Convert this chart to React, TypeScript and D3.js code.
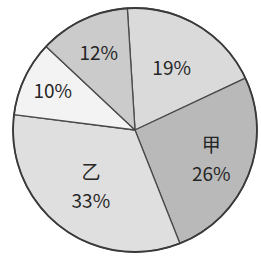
import React, { useEffect, useRef } from 'react';
import * as d3 from 'd3';

const names = ['', '甲', '乙', '', ''];
const values = [19, 26, 33, 10, 12];
const colors = ['#dadada', '#b9b9b9', '#dfdfdf', '#f3f3f3', '#cbcbcb'];
const labelRadius = [72, 82, 72, 91, 85];

const App: React.FC = () => {
    const ref = useRef<SVGSVGElement | null>(null);

    useEffect(() => {
        if (!ref.current) return;
        const width = 261;
        const height = 257;
        const cx = 135;
        const cy = 130;
        const r = 122;

        const svg = d3.select(ref.current);
        svg.selectAll('*').remove();
        svg.attr('width', width).attr('height', height);

        svg.append('rect').attr('width', width).attr('height', height).attr('fill', '#fff');

        const g = svg.append('g').attr('transform', `translate(${cx},${cy})`);

        const startAngle = -0.01 * 2 * Math.PI;
        const pie = d3.pie<number>()
            .sort(null)
            .startAngle(startAngle)
            .endAngle(startAngle + 2 * Math.PI);
        const arcs = pie(values);
        const arc = d3.arc<d3.PieArcDatum<number>>().innerRadius(0).outerRadius(r);

        g.selectAll('path.slice')
            .data(arcs)
            .enter()
            .append('path')
            .attr('class', 'slice')
            .attr('d', arc)
            .attr('fill', (d, i) => colors[i])
            .attr('stroke', '#4a4a4a')
            .attr('stroke-width', 1.3)
            .attr('stroke-linejoin', 'round');

        // outer ring a bit darker
        g.append('circle')
            .attr('r', r)
            .attr('fill', 'none')
            .attr('stroke', '#3a3a3a')
            .attr('stroke-width', 1.8);

        arcs.forEach((d, i) => {
            const mid = (d.startAngle + d.endAngle) / 2;
            const lr = labelRadius[i];
            const x = Math.sin(mid) * lr;
            const y = -Math.cos(mid) * lr;
            const t = g.append('text')
                .attr('text-anchor', 'middle')
                .style('font-family', '"Noto Sans CJK JP", "Noto Sans", sans-serif')
                .style('font-size', '19px')
                .style('fill', '#262626');
            if (names[i]) {
                t.append('tspan').attr('x', x).attr('y', y - 8).text(names[i]);
                t.append('tspan').attr('x', x).attr('y', y + 21).text(`${values[i]}%`);
            } else {
                t.attr('x', x).attr('y', y + 7).text(`${values[i]}%`);
            }
        });
    }, []);

    return <svg ref={ref} style={{ position: 'absolute', left: 0, top: 0 }} />;
};

export default App;
